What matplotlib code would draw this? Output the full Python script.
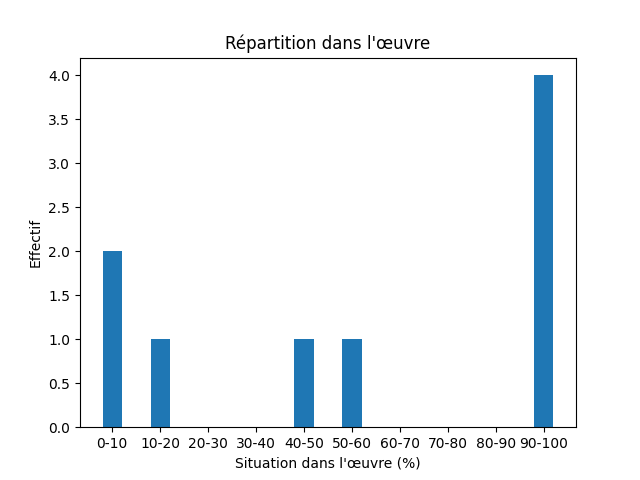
import matplotlib
matplotlib.use("Agg")
import matplotlib.pyplot as plt

categories = ["0-10","10-20","20-30","30-40","40-50","50-60","60-70","70-80","80-90","90-100"]
values = [2, 1, 0, 0, 1, 1, 0, 0, 0, 4]

fig, ax = plt.subplots(figsize=(6.4, 4.8), dpi=100)
ax.bar(range(len(categories)), values, width=0.4, color="#1f77b4")
ax.set_xticks(range(len(categories)))
ax.set_xticklabels(categories)
ax.set_title("Répartition dans l'œuvre")
ax.set_xlabel("Situation dans l'œuvre (%)")
ax.set_ylabel("Effectif")
fig.savefig("out.png")
